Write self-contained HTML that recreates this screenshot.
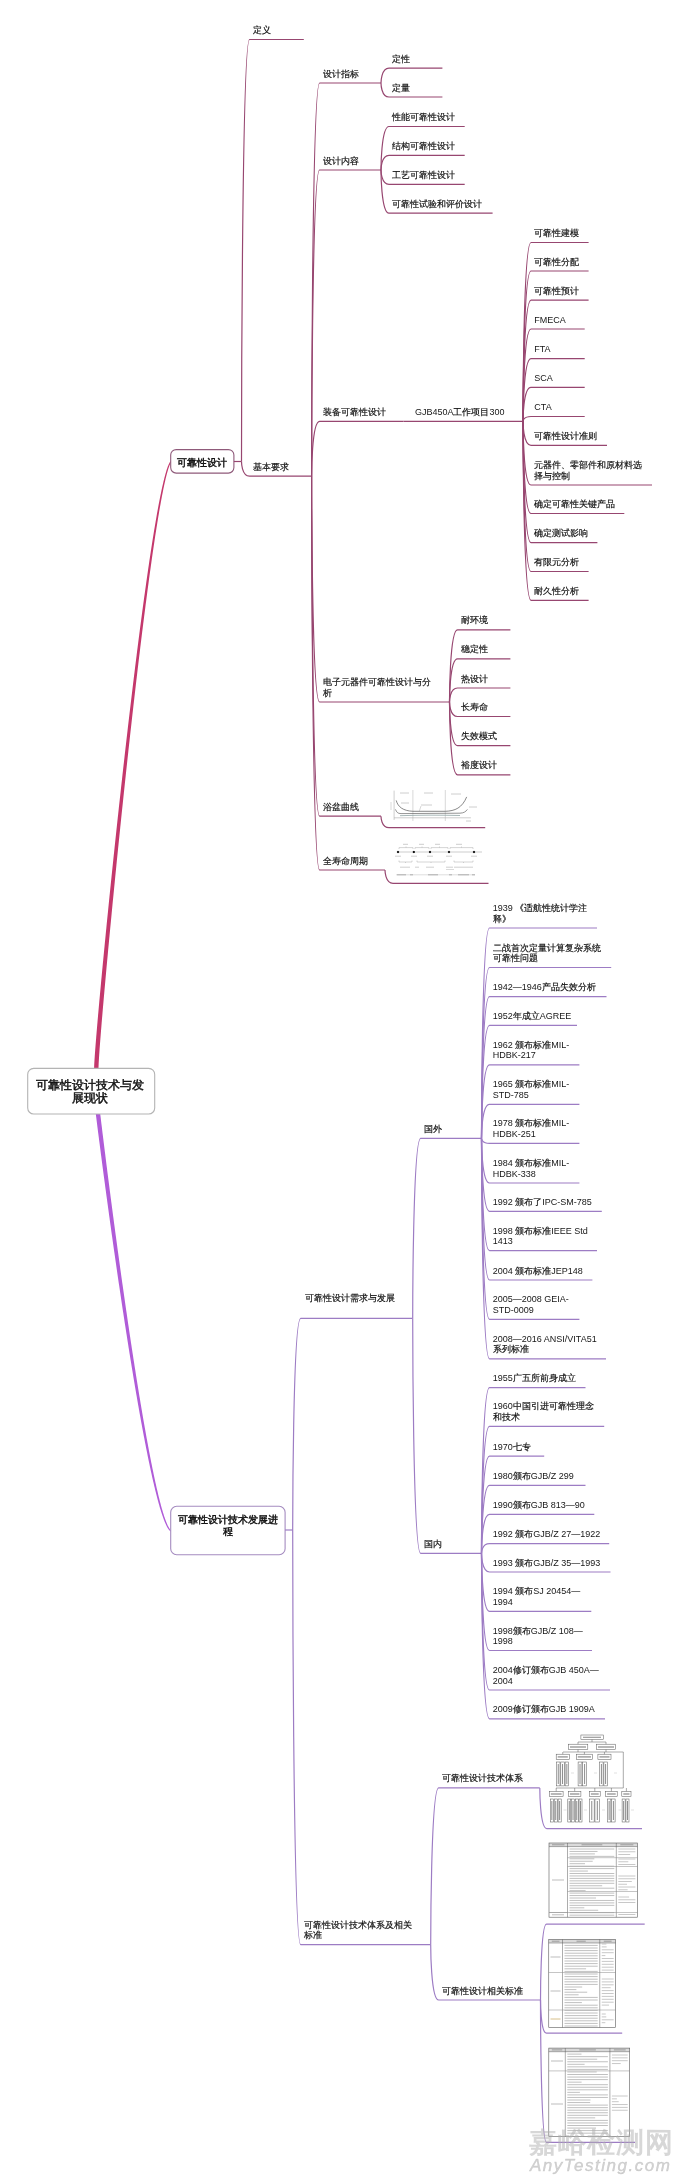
<!DOCTYPE html>
<html><head><meta charset="utf-8"><style>
html,body{margin:0;padding:0;background:#fff;}
body{width:680px;height:2183px;position:relative;overflow:hidden;font-family:"Liberation Sans",sans-serif;}
svg{position:absolute;left:0;top:0;}
.t{position:absolute;white-space:nowrap;}
.c{color:#111;-webkit-text-stroke:0.18px #111;}
.b .c{-webkit-text-stroke:0.45px #111;}
#tx{position:absolute;left:0;top:0;width:680px;height:2183px;will-change:transform;}
.wm1{position:absolute;left:529px;top:2126.5px;font-size:27.5px;line-height:32px;font-weight:bold;color:rgba(175,175,175,0.5);white-space:nowrap;letter-spacing:0.9px;}
.wm2{position:absolute;left:530px;top:2156.3px;font-size:17px;line-height:20px;font-style:italic;color:rgba(175,175,175,0.55);white-space:nowrap;letter-spacing:1.5px;-webkit-text-stroke:0.4px rgba(175,175,175,0.55);}
</style></head><body>
<svg width="680" height="2183" viewBox="0 0 680 2183" fill="none" stroke-width="1.2">
<path d="M98.50,1069.00 L98.50,1068.49 L98.51,1067.91 L98.52,1067.25 L98.55,1066.51 L98.58,1065.70 L98.61,1064.81 L98.66,1063.84 L98.71,1062.80 L98.77,1061.69 L98.84,1060.50 L98.92,1059.25 L99.00,1057.92 L99.09,1056.53 L99.19,1055.07 L99.29,1053.54 L99.40,1051.94 L99.52,1050.28 L99.64,1048.56 L99.77,1046.77 L99.91,1044.92 L100.06,1043.00 L100.21,1041.03 L100.37,1038.99 L100.53,1036.90 L100.70,1034.74 L100.88,1032.53 L101.06,1030.26 L101.25,1027.93 L101.45,1025.55 L101.65,1023.11 L101.86,1020.62 L102.07,1018.07 L102.29,1015.47 L102.52,1012.82 L102.75,1010.12 L102.99,1007.37 L103.23,1004.57 L103.48,1001.72 L103.73,998.82 L103.99,995.87 L104.26,992.88 L104.53,989.84 L104.80,986.76 L105.08,983.64 L105.37,980.47 L105.66,977.25 L105.95,974.00 L106.25,970.70 L106.56,967.37 L106.87,963.99 L107.19,960.58 L107.51,957.13 L107.83,953.64 L108.16,950.12 L108.49,946.56 L108.83,942.97 L109.17,939.34 L109.52,935.68 L109.87,931.98 L110.23,928.26 L110.59,924.50 L110.95,920.72 L111.32,916.90 L111.69,913.06 L112.06,909.19 L112.44,905.29 L112.82,901.37 L113.21,897.42 L113.60,893.44 L113.99,889.45 L114.39,885.43 L114.79,881.38 L115.20,877.32 L115.60,873.23 L116.01,869.13 L116.43,865.01 L116.84,860.87 L117.26,856.71 L117.69,852.53 L118.11,848.34 L118.54,844.13 L118.97,839.91 L119.41,835.68 L119.84,831.43 L120.28,827.17 L120.72,822.90 L121.17,818.62 L121.62,814.33 L122.06,810.03 L122.52,805.73 L122.97,801.41 L123.43,797.09 L123.88,792.77 L124.34,788.43 L124.81,784.10 L125.27,779.76 L125.73,775.42 L126.20,771.07 L126.67,766.73 L127.14,762.39 L127.61,758.04 L128.09,753.70 L128.56,749.36 L129.04,745.02 L129.52,740.69 L130.00,736.36 L130.48,732.03 L130.96,727.72 L131.44,723.41 L131.93,719.10 L132.41,714.81 L132.90,710.52 L133.38,706.24 L133.87,701.98 L134.36,697.73 L134.85,693.48 L135.34,689.26 L135.83,685.04 L136.32,680.84 L136.81,676.66 L137.30,672.49 L137.79,668.34 L138.28,664.20 L138.77,660.09 L139.26,655.99 L139.76,651.92 L140.25,647.86 L140.74,643.83 L141.23,639.82 L141.72,635.83 L142.21,631.87 L142.70,627.93 L143.19,624.02 L143.68,620.13 L144.17,616.27 L144.66,612.44 L145.15,608.64 L145.63,604.87 L146.12,601.13 L146.60,597.41 L147.09,593.73 L147.57,590.09 L148.05,586.47 L148.53,582.90 L149.01,579.35 L149.49,575.84 L149.97,572.37 L150.45,568.94 L150.92,565.54 L151.39,562.18 L151.86,558.87 L152.33,555.59 L152.80,552.35 L153.27,549.16 L153.73,546.01 L154.19,542.90 L154.66,539.84 L155.11,536.82 L155.57,533.85 L156.02,530.92 L156.48,528.05 L156.93,525.22 L157.37,522.44 L157.82,519.71 L158.26,517.03 L158.70,514.40 L159.14,511.82 L159.57,509.30 L160.01,506.83 L160.44,504.42 L160.86,502.06 L161.29,499.76 L161.71,497.51 L162.12,495.32 L162.54,493.20 L162.95,491.13 L163.36,489.12 L163.76,487.17 L164.16,485.28 L164.56,483.46 L164.96,481.70 L165.35,480.00 L165.73,478.37 L166.12,476.80 L166.50,475.30 L166.87,473.87 L167.24,472.51 L167.61,471.21 L167.98,469.99 L168.33,468.84 L168.69,467.75 L169.04,466.74 L169.38,465.81 L169.72,464.95 L170.06,464.16 L170.38,463.46 L170.70,462.83 L171.01,462.27 L171.31,461.78 L170.49,461.22 L170.12,461.71 L169.76,462.30 L169.39,462.96 L169.03,463.69 L168.66,464.50 L168.28,465.38 L167.91,466.33 L167.53,467.35 L167.15,468.44 L166.76,469.61 L166.37,470.84 L165.98,472.14 L165.58,473.52 L165.18,474.95 L164.78,476.46 L164.37,478.03 L163.96,479.67 L163.54,481.37 L163.12,483.13 L162.70,484.96 L162.28,486.85 L161.85,488.80 L161.42,490.81 L160.98,492.88 L160.54,495.01 L160.10,497.20 L159.66,499.45 L159.21,501.75 L158.76,504.11 L158.31,506.52 L157.85,508.99 L157.39,511.52 L156.93,514.09 L156.47,516.72 L156.00,519.40 L155.53,522.13 L155.06,524.91 L154.59,527.74 L154.11,530.62 L153.64,533.54 L153.16,536.51 L152.67,539.53 L152.19,542.59 L151.70,545.70 L151.22,548.85 L150.73,552.04 L150.24,555.28 L149.74,558.56 L149.25,561.87 L148.75,565.23 L148.26,568.62 L147.76,572.06 L147.26,575.53 L146.76,579.04 L146.25,582.58 L145.75,586.16 L145.25,589.77 L144.74,593.42 L144.23,597.10 L143.73,600.81 L143.22,604.55 L142.71,608.32 L142.20,612.12 L141.69,615.95 L141.18,619.81 L140.66,623.69 L140.15,627.61 L139.64,631.54 L139.13,635.51 L138.61,639.49 L138.10,643.50 L137.59,647.53 L137.07,651.59 L136.56,655.66 L136.05,659.76 L135.54,663.87 L135.02,668.00 L134.51,672.15 L134.00,676.32 L133.49,680.50 L132.97,684.70 L132.46,688.91 L131.95,693.14 L131.44,697.38 L130.94,701.64 L130.43,705.90 L129.92,710.18 L129.41,714.46 L128.91,718.75 L128.41,723.06 L127.90,727.37 L127.40,731.68 L126.90,736.01 L126.40,740.34 L125.90,744.67 L125.41,749.01 L124.91,753.35 L124.42,757.69 L123.93,762.03 L123.44,766.37 L122.95,770.72 L122.46,775.06 L121.98,779.40 L121.49,783.74 L121.01,788.07 L120.54,792.40 L120.06,796.73 L119.59,801.05 L119.11,805.36 L118.64,809.67 L118.18,813.97 L117.71,818.26 L117.25,822.54 L116.79,826.81 L116.33,831.06 L115.88,835.31 L115.43,839.54 L114.98,843.76 L114.53,847.97 L114.09,852.16 L113.65,856.34 L113.22,860.49 L112.78,864.63 L112.35,868.76 L111.93,872.86 L111.50,876.94 L111.08,881.01 L110.67,885.05 L110.26,889.07 L109.85,893.07 L109.44,897.04 L109.04,900.99 L108.64,904.91 L108.25,908.81 L107.86,912.68 L107.47,916.52 L107.09,920.34 L106.71,924.12 L106.34,927.88 L105.97,931.60 L105.61,935.30 L105.25,938.96 L104.89,942.59 L104.54,946.18 L104.19,949.74 L103.85,953.27 L103.51,956.75 L103.18,960.20 L102.85,963.62 L102.53,966.99 L102.21,970.33 L101.90,973.62 L101.59,976.88 L101.29,980.09 L100.99,983.26 L100.70,986.39 L100.42,989.47 L100.13,992.51 L99.86,995.50 L99.59,998.45 L99.32,1001.35 L99.07,1004.20 L98.81,1007.00 L98.57,1009.75 L98.33,1012.46 L98.09,1015.11 L97.86,1017.71 L97.64,1020.26 L97.42,1022.75 L97.21,1025.19 L97.01,1027.58 L96.81,1029.91 L96.62,1032.18 L96.43,1034.39 L96.25,1036.55 L96.08,1038.65 L95.92,1040.69 L95.76,1042.67 L95.61,1044.59 L95.46,1046.44 L95.32,1048.24 L95.19,1049.97 L95.07,1051.63 L94.95,1053.23 L94.84,1054.77 L94.74,1056.24 L94.65,1057.64 L94.56,1058.97 L94.48,1060.24 L94.41,1061.43 L94.34,1062.56 L94.28,1063.62 L94.23,1064.60 L94.19,1065.52 L94.16,1066.36 L94.13,1067.13 L94.11,1067.83 L94.10,1068.45 L94.10,1069.00Z" fill="#c4386c" stroke="none"/>
<path d="M95.72,1113.27 L95.98,1115.41 L96.26,1117.58 L96.53,1119.76 L96.81,1121.95 L97.09,1124.17 L97.37,1126.40 L97.66,1128.65 L97.94,1130.92 L98.23,1133.20 L98.53,1135.49 L98.82,1137.81 L99.12,1140.13 L99.43,1142.48 L99.73,1144.83 L100.04,1147.21 L100.35,1149.59 L100.66,1151.99 L100.97,1154.41 L101.29,1156.83 L101.61,1159.27 L101.93,1161.72 L102.25,1164.19 L102.58,1166.67 L102.91,1169.15 L103.24,1171.65 L103.57,1174.17 L103.91,1176.69 L104.25,1179.22 L104.59,1181.77 L104.93,1184.32 L105.27,1186.88 L105.62,1189.46 L105.97,1192.04 L106.32,1194.63 L106.67,1197.23 L107.02,1199.84 L107.38,1202.46 L107.74,1205.08 L108.10,1207.72 L108.46,1210.36 L108.82,1213.00 L109.19,1215.66 L109.55,1218.32 L109.92,1220.98 L110.29,1223.66 L110.66,1226.34 L111.04,1229.02 L111.41,1231.71 L111.79,1234.40 L112.17,1237.10 L112.55,1239.80 L112.93,1242.51 L113.32,1245.22 L113.70,1247.93 L114.09,1250.65 L114.47,1253.37 L114.86,1256.09 L115.25,1258.81 L115.65,1261.54 L116.04,1264.27 L116.43,1267.00 L116.83,1269.73 L117.22,1272.46 L117.62,1275.19 L118.02,1277.92 L118.42,1280.66 L118.82,1283.39 L119.23,1286.12 L119.63,1288.85 L120.03,1291.58 L120.44,1294.31 L120.85,1297.03 L121.25,1299.76 L121.66,1302.48 L122.07,1305.20 L122.48,1307.92 L122.89,1310.63 L123.30,1313.34 L123.71,1316.05 L124.13,1318.75 L124.54,1321.45 L124.96,1324.14 L125.37,1326.83 L125.79,1329.52 L126.20,1332.20 L126.62,1334.87 L127.04,1337.54 L127.45,1340.20 L127.87,1342.85 L128.29,1345.50 L128.71,1348.14 L129.13,1350.78 L129.55,1353.40 L129.97,1356.02 L130.39,1358.63 L130.81,1361.23 L131.23,1363.83 L131.66,1366.41 L132.08,1368.99 L132.50,1371.55 L132.92,1374.11 L133.34,1376.65 L133.77,1379.19 L134.19,1381.71 L134.61,1384.22 L135.03,1386.73 L135.45,1389.22 L135.88,1391.70 L136.30,1394.16 L136.72,1396.62 L137.14,1399.06 L137.56,1401.49 L137.99,1403.90 L138.41,1406.30 L138.83,1408.69 L139.25,1411.07 L139.67,1413.42 L140.09,1415.77 L140.51,1418.10 L140.93,1420.41 L141.35,1422.71 L141.77,1425.00 L142.18,1427.26 L142.60,1429.52 L143.02,1431.75 L143.44,1433.97 L143.85,1436.17 L144.27,1438.35 L144.68,1440.52 L145.10,1442.67 L145.51,1444.79 L145.92,1446.90 L146.33,1449.00 L146.74,1451.07 L147.15,1453.12 L147.56,1455.16 L147.97,1457.17 L148.38,1459.16 L148.79,1461.13 L149.19,1463.09 L149.60,1465.02 L150.00,1466.93 L150.40,1468.81 L150.80,1470.68 L151.20,1472.52 L151.60,1474.34 L152.00,1476.14 L152.40,1477.92 L152.79,1479.67 L153.19,1481.40 L153.58,1483.10 L153.98,1484.78 L154.37,1486.44 L154.76,1488.07 L155.14,1489.67 L155.53,1491.25 L155.92,1492.81 L156.30,1494.34 L156.68,1495.84 L157.06,1497.32 L157.44,1498.77 L157.82,1500.19 L158.19,1501.59 L158.57,1502.95 L158.94,1504.29 L159.31,1505.61 L159.68,1506.89 L160.05,1508.14 L160.42,1509.37 L160.78,1510.57 L161.14,1511.74 L161.50,1512.87 L161.86,1513.98 L162.22,1515.06 L162.58,1516.11 L162.93,1517.12 L163.28,1518.11 L163.63,1519.06 L163.98,1519.98 L164.32,1520.87 L164.67,1521.73 L165.01,1522.56 L165.35,1523.35 L165.69,1524.11 L166.02,1524.84 L166.36,1525.53 L166.69,1526.19 L167.02,1526.82 L167.35,1527.41 L167.68,1527.97 L168.00,1528.50 L168.33,1528.99 L168.65,1529.44 L168.97,1529.86 L169.30,1530.25 L169.62,1530.59 L169.95,1530.91 L170.27,1531.18 L170.59,1531.40 L171.21,1530.60 L170.95,1530.37 L170.69,1530.13 L170.42,1529.84 L170.15,1529.52 L169.88,1529.16 L169.60,1528.77 L169.31,1528.33 L169.02,1527.86 L168.73,1527.36 L168.43,1526.82 L168.13,1526.24 L167.83,1525.63 L167.52,1524.98 L167.21,1524.29 L166.90,1523.58 L166.59,1522.83 L166.27,1522.04 L165.95,1521.22 L165.63,1520.37 L165.31,1519.49 L164.98,1518.57 L164.65,1517.62 L164.33,1516.64 L163.99,1515.63 L163.66,1514.59 L163.32,1513.52 L162.99,1512.41 L162.65,1511.28 L162.30,1510.11 L161.96,1508.92 L161.61,1507.69 L161.27,1506.44 L160.92,1505.16 L160.57,1503.85 L160.21,1502.51 L159.86,1501.14 L159.50,1499.75 L159.15,1498.33 L158.79,1496.88 L158.43,1495.41 L158.07,1493.90 L157.70,1492.37 L157.34,1490.82 L156.97,1489.24 L156.60,1487.64 L156.23,1486.01 L155.86,1484.35 L155.49,1482.67 L155.12,1480.97 L154.74,1479.24 L154.37,1477.49 L153.99,1475.71 L153.61,1473.91 L153.23,1472.09 L152.85,1470.25 L152.47,1468.38 L152.08,1466.49 L151.70,1464.58 L151.32,1462.65 L150.93,1460.70 L150.54,1458.73 L150.16,1456.73 L149.77,1454.72 L149.38,1452.69 L148.99,1450.63 L148.59,1448.56 L148.20,1446.47 L147.81,1444.36 L147.42,1442.23 L147.02,1440.08 L146.63,1437.91 L146.23,1435.73 L145.83,1433.53 L145.44,1431.31 L145.04,1429.07 L144.64,1426.82 L144.24,1424.55 L143.84,1422.27 L143.44,1419.97 L143.04,1417.65 L142.64,1415.32 L142.24,1412.98 L141.84,1410.62 L141.44,1408.24 L141.03,1405.85 L140.63,1403.45 L140.23,1401.03 L139.83,1398.60 L139.42,1396.16 L139.02,1393.71 L138.62,1391.24 L138.21,1388.76 L137.81,1386.27 L137.40,1383.76 L137.00,1381.25 L136.60,1378.73 L136.19,1376.19 L135.79,1373.64 L135.39,1371.09 L134.98,1368.52 L134.58,1365.94 L134.18,1363.36 L133.77,1360.77 L133.37,1358.16 L132.97,1355.55 L132.56,1352.93 L132.16,1350.30 L131.76,1347.67 L131.36,1345.03 L130.96,1342.38 L130.56,1339.72 L130.16,1337.06 L129.76,1334.39 L129.36,1331.72 L128.96,1329.04 L128.56,1326.35 L128.16,1323.66 L127.76,1320.97 L127.37,1318.27 L126.97,1315.56 L126.58,1312.85 L126.18,1310.14 L125.79,1307.43 L125.40,1304.71 L125.00,1301.99 L124.61,1299.27 L124.22,1296.54 L123.83,1293.81 L123.44,1291.08 L123.05,1288.35 L122.67,1285.62 L122.28,1282.89 L121.90,1280.16 L121.51,1277.42 L121.13,1274.69 L120.75,1271.96 L120.37,1269.23 L119.99,1266.49 L119.61,1263.76 L119.23,1261.03 L118.86,1258.31 L118.48,1255.58 L118.11,1252.86 L117.74,1250.14 L117.36,1247.42 L117.00,1244.71 L116.63,1242.00 L116.26,1239.29 L115.90,1236.59 L115.53,1233.89 L115.17,1231.19 L114.81,1228.50 L114.45,1225.82 L114.09,1223.14 L113.74,1220.47 L113.38,1217.80 L113.03,1215.14 L112.68,1212.48 L112.33,1209.84 L111.98,1207.20 L111.64,1204.56 L111.29,1201.94 L110.95,1199.32 L110.61,1196.71 L110.27,1194.11 L109.93,1191.51 L109.60,1188.93 L109.27,1186.36 L108.94,1183.79 L108.61,1181.24 L108.28,1178.69 L107.96,1176.16 L107.63,1173.64 L107.31,1171.13 L107.00,1168.62 L106.68,1166.14 L106.37,1163.66 L106.06,1161.19 L105.75,1158.74 L105.44,1156.30 L105.14,1153.87 L104.83,1151.46 L104.53,1149.06 L104.24,1146.67 L103.94,1144.30 L103.65,1141.94 L103.36,1139.60 L103.07,1137.27 L102.79,1134.96 L102.50,1132.66 L102.22,1130.38 L101.95,1128.12 L101.67,1125.87 L101.40,1123.63 L101.13,1121.42 L100.87,1119.22 L100.60,1117.04 L100.34,1114.88 L100.08,1112.73Z" fill="#b05cd8" stroke="none"/>
<rect x="27.7" y="1068.4" width="127" height="45.6" rx="6" fill="#fff" stroke="#b4b4b4" stroke-width="1.1"/>
<rect x="170.7" y="449.6" width="63.2" height="23.5" rx="5.5" fill="#fff" stroke="#8f5a7a" stroke-width="1.1"/>
<rect x="170.7" y="1506.3" width="114.4" height="48.4" rx="6" fill="#fff" stroke="#a58cc0" stroke-width="1.1"/>
<path d="M233.9,461.5 L241.5,461.5" stroke="#974670"/>
<path d="M241.50,461.50 C241.50,461.50 241.50,39.50 249.50,39.50 L303.80,39.50" stroke="#974670"/>
<path d="M241.50,461.50 C241.50,461.50 241.50,476.10 249.50,476.10 L311.60,476.10" stroke="#974670"/>
<path d="M311.60,476.10 C311.60,476.10 311.60,83.00 319.60,83.00 L381.00,83.00" stroke="#974670"/>
<path d="M381.00,83.00 C381.00,83.00 381.00,68.10 389.00,68.10 L442.40,68.10" stroke="#974670"/>
<path d="M381.00,83.00 C381.00,83.00 381.00,97.00 389.00,97.00 L442.40,97.00" stroke="#974670"/>
<path d="M311.60,476.10 C311.60,476.10 311.60,170.00 319.60,170.00 L381.00,170.00" stroke="#974670"/>
<path d="M381.00,170.00 C381.00,170.00 381.00,126.50 389.00,126.50 L464.70,126.50" stroke="#974670"/>
<path d="M381.00,170.00 C381.00,170.00 381.00,155.30 389.00,155.30 L464.70,155.30" stroke="#974670"/>
<path d="M381.00,170.00 C381.00,170.00 381.00,184.40 389.00,184.40 L464.70,184.40" stroke="#974670"/>
<path d="M381.00,170.00 C381.00,170.00 381.00,213.20 389.00,213.20 L492.60,213.20" stroke="#974670"/>
<path d="M311.60,476.10 C311.60,476.10 311.60,421.40 319.60,421.40 L403.50,421.40" stroke="#974670"/>
<path d="M403.50,421.40 C403.50,421.40 403.50,421.40 411.50,421.40 L523.00,421.40" stroke="#974670"/>
<path d="M523.00,421.40 C523.00,421.40 523.00,242.50 531.00,242.50 L588.60,242.50" stroke="#974670"/>
<path d="M523.00,421.40 C523.00,421.40 523.00,271.00 531.00,271.00 L588.60,271.00" stroke="#974670"/>
<path d="M523.00,421.40 C523.00,421.40 523.00,300.20 531.00,300.20 L588.60,300.20" stroke="#974670"/>
<path d="M523.00,421.40 C523.00,421.40 523.00,329.00 531.00,329.00 L584.70,329.00" stroke="#974670"/>
<path d="M523.00,421.40 C523.00,421.40 523.00,358.60 531.00,358.60 L584.70,358.60" stroke="#974670"/>
<path d="M523.00,421.40 C523.00,421.40 523.00,387.40 531.00,387.40 L584.70,387.40" stroke="#974670"/>
<path d="M523.00,421.40 C523.00,421.40 523.00,416.50 531.00,416.50 L584.70,416.50" stroke="#974670"/>
<path d="M523.00,421.40 C523.00,421.40 523.00,445.30 531.00,445.30 L607.00,445.30" stroke="#974670"/>
<path d="M523.00,421.40 C523.00,421.40 523.00,485.00 531.00,485.00 L652.00,485.00" stroke="#974670"/>
<path d="M523.00,421.40 C523.00,421.40 523.00,513.50 531.00,513.50 L624.30,513.50" stroke="#974670"/>
<path d="M523.00,421.40 C523.00,421.40 523.00,542.60 531.00,542.60 L597.40,542.60" stroke="#974670"/>
<path d="M523.00,421.40 C523.00,421.40 523.00,571.50 531.00,571.50 L588.60,571.50" stroke="#974670"/>
<path d="M523.00,421.40 C523.00,421.40 523.00,600.30 531.00,600.30 L588.60,600.30" stroke="#974670"/>
<path d="M311.60,476.10 C311.60,476.10 311.60,702.00 319.60,702.00 L449.50,702.00" stroke="#974670"/>
<path d="M449.50,702.00 C449.50,702.00 449.50,629.80 457.50,629.80 L510.40,629.80" stroke="#974670"/>
<path d="M449.50,702.00 C449.50,702.00 449.50,658.90 457.50,658.90 L510.40,658.90" stroke="#974670"/>
<path d="M449.50,702.00 C449.50,702.00 449.50,688.00 457.50,688.00 L510.40,688.00" stroke="#974670"/>
<path d="M449.50,702.00 C449.50,702.00 449.50,716.50 457.50,716.50 L510.40,716.50" stroke="#974670"/>
<path d="M449.50,702.00 C449.50,702.00 449.50,745.60 457.50,745.60 L510.40,745.60" stroke="#974670"/>
<path d="M449.50,702.00 C449.50,702.00 449.50,774.80 457.50,774.80 L510.40,774.80" stroke="#974670"/>
<path d="M311.60,476.10 C311.60,476.10 311.60,816.20 319.60,816.20 L381.00,816.20" stroke="#974670"/>
<path d="M381.00,816.20 C381.00,816.20 381.00,827.70 389.00,827.70 L485.20,827.70" stroke="#974670"/>
<path d="M311.60,476.10 C311.60,476.10 311.60,870.00 319.60,870.00 L385.00,870.00" stroke="#974670"/>
<path d="M385.00,870.00 C385.00,870.00 385.00,883.30 393.00,883.30 L488.50,883.30" stroke="#974670"/>
<path d="M285.1,1530 L292.7,1530" stroke="#9d7cc4"/>
<path d="M292.70,1530.00 C292.70,1530.00 292.70,1318.40 300.70,1318.40 L412.70,1318.40" stroke="#9d7cc4"/>
<path d="M412.70,1318.40 C412.70,1318.40 412.70,1138.30 420.70,1138.30 L481.50,1138.30" stroke="#9d7cc4"/>
<path d="M412.70,1318.40 C412.70,1318.40 412.70,1553.40 420.70,1553.40 L481.50,1553.40" stroke="#9d7cc4"/>
<path d="M481.50,1138.30 C481.50,1138.30 481.50,928.00 489.50,928.00 L597.00,928.00" stroke="#9d7cc4"/>
<path d="M481.50,1138.30 C481.50,1138.30 481.50,967.50 489.50,967.50 L611.20,967.50" stroke="#9d7cc4"/>
<path d="M481.50,1138.30 C481.50,1138.30 481.50,996.60 489.50,996.60 L606.50,996.60" stroke="#9d7cc4"/>
<path d="M481.50,1138.30 C481.50,1138.30 481.50,1025.30 489.50,1025.30 L577.00,1025.30" stroke="#9d7cc4"/>
<path d="M481.50,1138.30 C481.50,1138.30 481.50,1064.80 489.50,1064.80 L579.40,1064.80" stroke="#9d7cc4"/>
<path d="M481.50,1138.30 C481.50,1138.30 481.50,1104.40 489.50,1104.40 L579.40,1104.40" stroke="#9d7cc4"/>
<path d="M481.50,1138.30 C481.50,1138.30 481.50,1143.40 489.50,1143.40 L579.40,1143.40" stroke="#9d7cc4"/>
<path d="M481.50,1138.30 C481.50,1138.30 481.50,1183.00 489.50,1183.00 L579.40,1183.00" stroke="#9d7cc4"/>
<path d="M481.50,1138.30 C481.50,1138.30 481.50,1211.30 489.50,1211.30 L601.80,1211.30" stroke="#9d7cc4"/>
<path d="M481.50,1138.30 C481.50,1138.30 481.50,1250.60 489.50,1250.60 L597.00,1250.60" stroke="#9d7cc4"/>
<path d="M481.50,1138.30 C481.50,1138.30 481.50,1280.00 489.50,1280.00 L592.40,1280.00" stroke="#9d7cc4"/>
<path d="M481.50,1138.30 C481.50,1138.30 481.50,1319.30 489.50,1319.30 L579.40,1319.30" stroke="#9d7cc4"/>
<path d="M481.50,1138.30 C481.50,1138.30 481.50,1358.80 489.50,1358.80 L606.00,1358.80" stroke="#9d7cc4"/>
<path d="M481.50,1553.40 C481.50,1553.40 481.50,1387.60 489.50,1387.60 L585.50,1387.60" stroke="#9d7cc4"/>
<path d="M481.50,1553.40 C481.50,1553.40 481.50,1426.40 489.50,1426.40 L604.20,1426.40" stroke="#9d7cc4"/>
<path d="M481.50,1553.40 C481.50,1553.40 481.50,1456.10 489.50,1456.10 L544.20,1456.10" stroke="#9d7cc4"/>
<path d="M481.50,1553.40 C481.50,1553.40 481.50,1485.40 489.50,1485.40 L585.50,1485.40" stroke="#9d7cc4"/>
<path d="M481.50,1553.40 C481.50,1553.40 481.50,1514.40 489.50,1514.40 L594.30,1514.40" stroke="#9d7cc4"/>
<path d="M481.50,1553.40 C481.50,1553.40 481.50,1543.70 489.50,1543.70 L609.20,1543.70" stroke="#9d7cc4"/>
<path d="M481.50,1553.40 C481.50,1553.40 481.50,1572.00 489.50,1572.00 L610.50,1572.00" stroke="#9d7cc4"/>
<path d="M481.50,1553.40 C481.50,1553.40 481.50,1611.30 489.50,1611.30 L591.30,1611.30" stroke="#9d7cc4"/>
<path d="M481.50,1553.40 C481.50,1553.40 481.50,1650.50 489.50,1650.50 L592.00,1650.50" stroke="#9d7cc4"/>
<path d="M481.50,1553.40 C481.50,1553.40 481.50,1690.00 489.50,1690.00 L610.00,1690.00" stroke="#9d7cc4"/>
<path d="M481.50,1553.40 C481.50,1553.40 481.50,1718.80 489.50,1718.80 L605.00,1718.80" stroke="#9d7cc4"/>
<path d="M292.70,1530.00 C292.70,1530.00 292.70,1944.70 300.70,1944.70 L430.70,1944.70" stroke="#9d7cc4"/>
<path d="M430.70,1944.70 C430.70,1944.70 430.70,1787.90 438.70,1787.90 L539.80,1787.90" stroke="#9d7cc4"/>
<path d="M430.70,1944.70 C430.70,1944.70 430.70,2000.00 438.70,2000.00 L540.50,2000.00" stroke="#9d7cc4"/>
<path d="M539.80,1787.90 C539.80,1787.90 539.80,1828.60 546.80,1828.60 L642.00,1828.60" stroke="#9d7cc4"/>
<path d="M540.50,2000.00 C540.50,2000.00 540.50,1924.10 546.50,1924.10 L644.70,1924.10" stroke="#9d7cc4"/>
<path d="M540.50,2000.00 C540.50,2000.00 540.50,2033.20 546.50,2033.20 L622.20,2033.20" stroke="#9d7cc4"/>
<path d="M540.50,2000.00 C540.50,2000.00 540.50,2142.30 546.50,2142.30 L635.00,2142.30" stroke="#9d7cc4"/>
<path d="M394.1,790.6 L394.1,819.9" stroke="#9a9a9a" stroke-width="0.5"/>
<path d="M394.1,817.8 L470.9,817.8" stroke="#9a9a9a" stroke-width="0.5"/>
<path d="M412.9,790 L412.9,821" stroke="#a8a8a8" stroke-width="0.45"/>
<path d="M445.3,790 L445.3,821" stroke="#a8a8a8" stroke-width="0.45"/>
<path d="M396.2,800.4 C398,807 403,810.8 412.9,811.3 L445.3,811.3 C455,811 462,808 466.7,796.9" stroke="#555" stroke-width="0.7"/>
<path d="M395.5,809.4 C396.5,812 397.5,813.6 401,813.6 L460,813.2 C464,813 466,811.5 467.4,809.4" stroke="#666" stroke-width="0.7"/>
<path d="M400,815.7 C420,815 440,815 460,815.5" stroke="#8fa3a3" stroke-width="0.8"/>
<path d="M400,793 L409,793" stroke="#c8c8c8" stroke-width="0.9"/>
<path d="M424,793 L433,793" stroke="#c8c8c8" stroke-width="0.9"/>
<path d="M451,794 L461,794" stroke="#c8c8c8" stroke-width="0.9"/>
<path d="M401,803 L409,803" stroke="#c8c8c8" stroke-width="0.9"/>
<path d="M421,805 L432,805" stroke="#c8c8c8" stroke-width="0.9"/>
<path d="M469,807 L477,807" stroke="#c8c8c8" stroke-width="0.9"/>
<path d="M466,821 L471,821" stroke="#c8c8c8" stroke-width="0.9"/>
<path d="M391,802 L391,810" stroke="#cfcfcf" stroke-width="0.8"/>
<path d="M421,806 L419,812" stroke="#999" stroke-width="0.4"/>
<path d="M398,852 L482,852" stroke="#9a9a9a" stroke-width="0.5"/>
<rect x="397.1" y="851.1" width="1.8" height="1.8" stroke="#111" stroke-width="0.3" fill="#111"/>
<rect x="413.0" y="851.1" width="1.8" height="1.8" stroke="#111" stroke-width="0.3" fill="#111"/>
<rect x="429.1" y="851.1" width="1.8" height="1.8" stroke="#111" stroke-width="0.3" fill="#111"/>
<rect x="448.1" y="851.1" width="1.8" height="1.8" stroke="#111" stroke-width="0.3" fill="#111"/>
<rect x="473.1" y="851.1" width="1.8" height="1.8" stroke="#111" stroke-width="0.3" fill="#111"/>
<path d="M399,849 L399,847.6 L413,847.6 L413,849 M406.0,847.6 L406.0,846.5" stroke="#aaa" stroke-width="0.5"/>
<path d="M415,849 L415,847.6 L429,847.6 L429,849 M422.0,847.6 L422.0,846.5" stroke="#aaa" stroke-width="0.5"/>
<path d="M431,849 L431,847.6 L448,847.6 L448,849 M439.5,847.6 L439.5,846.5" stroke="#aaa" stroke-width="0.5"/>
<path d="M450,849 L450,847.6 L473,847.6 L473,849 M461.5,847.6 L461.5,846.5" stroke="#aaa" stroke-width="0.5"/>
<path d="M403,844.3 L408,844.3" stroke="#c0c0c0" stroke-width="0.8"/>
<path d="M419,844.3 L424,844.3" stroke="#c0c0c0" stroke-width="0.8"/>
<path d="M435,844.3 L440,844.3" stroke="#c0c0c0" stroke-width="0.8"/>
<path d="M456,844.3 L462,844.3" stroke="#c0c0c0" stroke-width="0.8"/>
<path d="M395,856.2 L401,856.2" stroke="#c4c4c4" stroke-width="0.8"/>
<path d="M411,856.2 L417,856.2" stroke="#c4c4c4" stroke-width="0.8"/>
<path d="M427,856.2 L433,856.2" stroke="#c4c4c4" stroke-width="0.8"/>
<path d="M446,856.2 L452,856.2" stroke="#c4c4c4" stroke-width="0.8"/>
<path d="M471,856.2 L477,856.2" stroke="#c4c4c4" stroke-width="0.8"/>
<path d="M399,860.5 L399,862 L412,862 L412,860.5 M405.5,862 L405.5,863" stroke="#aaa" stroke-width="0.5"/>
<path d="M417,860.5 L417,862 L445,862 L445,860.5 M431.0,862 L431.0,863" stroke="#aaa" stroke-width="0.5"/>
<path d="M454,860.5 L454,862 L473,862 L473,860.5 M463.5,862 L463.5,863" stroke="#aaa" stroke-width="0.5"/>
<path d="M400,867.2 L410,867.2" stroke="#c4c4c4" stroke-width="0.8"/>
<path d="M415,867.2 L419,867.2" stroke="#c4c4c4" stroke-width="0.8"/>
<path d="M426,867.2 L434,867.2" stroke="#c4c4c4" stroke-width="0.8"/>
<path d="M446,867.2 L453,867.2" stroke="#c4c4c4" stroke-width="0.8"/>
<path d="M454,867.2 L473,867.2" stroke="#c4c4c4" stroke-width="0.8"/>
<path d="M446,869.5 L454,869.5" stroke="#cacaca" stroke-width="0.7"/>
<path d="M396,874.8 L475,874.8" stroke="#bdbdbd" stroke-width="0.5"/>
<path d="M397,874.8 L406,874.8" stroke="#b0b0b0" stroke-width="1.0"/>
<path d="M410,874.8 L413,874.8" stroke="#b0b0b0" stroke-width="1.0"/>
<path d="M428,874.8 L438,874.8" stroke="#b0b0b0" stroke-width="1.0"/>
<path d="M449,874.8 L452,874.8" stroke="#b0b0b0" stroke-width="1.0"/>
<path d="M458,874.8 L469,874.8" stroke="#b0b0b0" stroke-width="1.0"/>
<path d="M472,874.8 L475,874.8" stroke="#b0b0b0" stroke-width="1.0"/>
<rect x="580.9" y="1735" width="22.4" height="4.6" stroke="#555555" stroke-width="0.5" fill="none"/>
<path d="M583,1737.3 L601,1737.3" stroke="#9a9a9a" stroke-width="1.2"/>
<path d="M592,1739.6 L592,1742" stroke="#555555" stroke-width="0.5"/>
<path d="M578,1742 L606,1742" stroke="#555555" stroke-width="0.5"/>
<path d="M578,1742 L578,1744.2" stroke="#555555" stroke-width="0.5"/>
<path d="M606,1742 L606,1744.2" stroke="#555555" stroke-width="0.5"/>
<rect x="568.5" y="1744.2" width="19.3" height="5.4" stroke="#555555" stroke-width="0.5" fill="none"/>
<rect x="596.3" y="1744.2" width="19.3" height="5.4" stroke="#555555" stroke-width="0.5" fill="none"/>
<path d="M570,1747 L586,1747" stroke="#9a9a9a" stroke-width="1.4"/>
<path d="M598,1747 L614,1747" stroke="#9a9a9a" stroke-width="1.4"/>
<path d="M563,1752 L623.3,1752" stroke="#555555" stroke-width="0.5"/>
<path d="M578,1749.6 L578,1752" stroke="#555555" stroke-width="0.5"/>
<path d="M606,1749.6 L606,1752" stroke="#555555" stroke-width="0.5"/>
<path d="M623.3,1752 L623.3,1788" stroke="#555555" stroke-width="0.5"/>
<rect x="556.2" y="1754.2" width="13.1" height="5.4" stroke="#555555" stroke-width="0.5" fill="none"/>
<path d="M557.7,1756.9 L567.8000000000001,1756.9" stroke="#9a9a9a" stroke-width="1.4"/>
<path d="M562.75,1752 L562.75,1754.2" stroke="#555555" stroke-width="0.5"/>
<rect x="576.3" y="1754.2" width="16.2" height="5.4" stroke="#555555" stroke-width="0.5" fill="none"/>
<path d="M577.8,1756.9 L591.0,1756.9" stroke="#9a9a9a" stroke-width="1.4"/>
<path d="M584.4,1752 L584.4,1754.2" stroke="#555555" stroke-width="0.5"/>
<rect x="597.9" y="1754.2" width="13.1" height="5.4" stroke="#555555" stroke-width="0.5" fill="none"/>
<path d="M599.4,1756.9 L609.5,1756.9" stroke="#9a9a9a" stroke-width="1.4"/>
<path d="M604.4499999999999,1752 L604.4499999999999,1754.2" stroke="#555555" stroke-width="0.5"/>
<rect x="556.5" y="1762" width="3.5" height="23.9" stroke="#555555" stroke-width="0.5" fill="none"/>
<path d="M558.25,1764 L558.25,1784" stroke="#8a8a8a" stroke-width="1.0"/>
<rect x="560.8" y="1762" width="3.5" height="23.9" stroke="#555555" stroke-width="0.5" fill="none"/>
<path d="M562.55,1764 L562.55,1784" stroke="#8a8a8a" stroke-width="1.0"/>
<rect x="565.1" y="1762" width="3.5" height="23.9" stroke="#555555" stroke-width="0.5" fill="none"/>
<path d="M566.85,1764 L566.85,1784" stroke="#8a8a8a" stroke-width="1.0"/>
<rect x="578.0999999999999" y="1762" width="3.8" height="23.9" stroke="#555555" stroke-width="0.5" fill="none"/>
<path d="M579.9999999999999,1764 L579.9999999999999,1784" stroke="#8a8a8a" stroke-width="1.0"/>
<rect x="582.6999999999999" y="1762" width="3.8" height="23.9" stroke="#555555" stroke-width="0.5" fill="none"/>
<path d="M584.5999999999999,1764 L584.5999999999999,1784" stroke="#8a8a8a" stroke-width="1.0"/>
<rect x="599.6999999999999" y="1762" width="3.4000000000000004" height="23.9" stroke="#555555" stroke-width="0.5" fill="none"/>
<path d="M601.4,1764 L601.4,1784" stroke="#8a8a8a" stroke-width="1.0"/>
<rect x="603.9" y="1762" width="3.4000000000000004" height="23.9" stroke="#555555" stroke-width="0.5" fill="none"/>
<path d="M605.6,1764 L605.6,1784" stroke="#8a8a8a" stroke-width="1.0"/>
<path d="M571,1773 L574,1773" stroke="#cfcfcf" stroke-width="0.6"/>
<path d="M594,1773 L597,1773" stroke="#cfcfcf" stroke-width="0.6"/>
<path d="M614,1773 L617,1773" stroke="#cfcfcf" stroke-width="0.6"/>
<path d="M556,1788 L623.3,1788" stroke="#555555" stroke-width="0.5"/>
<rect x="549.3" y="1791.3" width="13.8" height="5.4" stroke="#555555" stroke-width="0.5" fill="none"/>
<path d="M550.8,1794 L561.5999999999999,1794" stroke="#9a9a9a" stroke-width="1.4"/>
<path d="M556.1999999999999,1788 L556.1999999999999,1791.3" stroke="#555555" stroke-width="0.5"/>
<rect x="568.5" y="1791.3" width="12.4" height="5.4" stroke="#555555" stroke-width="0.5" fill="none"/>
<path d="M570.0,1794 L579.4,1794" stroke="#9a9a9a" stroke-width="1.4"/>
<path d="M574.7,1788 L574.7,1791.3" stroke="#555555" stroke-width="0.5"/>
<rect x="589.4" y="1791.3" width="10.8" height="5.4" stroke="#555555" stroke-width="0.5" fill="none"/>
<path d="M590.9,1794 L598.6999999999999,1794" stroke="#9a9a9a" stroke-width="1.4"/>
<path d="M594.8,1788 L594.8,1791.3" stroke="#555555" stroke-width="0.5"/>
<rect x="605.6" y="1791.3" width="11.6" height="5.4" stroke="#555555" stroke-width="0.5" fill="none"/>
<path d="M607.1,1794 L615.7,1794" stroke="#9a9a9a" stroke-width="1.4"/>
<path d="M611.4,1788 L611.4,1791.3" stroke="#555555" stroke-width="0.5"/>
<rect x="621.8" y="1791.3" width="9.2" height="5.4" stroke="#555555" stroke-width="0.5" fill="none"/>
<path d="M623.3,1794 L629.5,1794" stroke="#9a9a9a" stroke-width="1.4"/>
<path d="M626.4,1788 L626.4,1791.3" stroke="#555555" stroke-width="0.5"/>
<rect x="550.3" y="1799" width="3.0999999999999996" height="23" stroke="#555555" stroke-width="0.5" fill="none"/>
<path d="M551.85,1801 L551.85,1820" stroke="#8a8a8a" stroke-width="1.0"/>
<rect x="554.1999999999999" y="1799" width="3.0999999999999996" height="23" stroke="#555555" stroke-width="0.5" fill="none"/>
<path d="M555.75,1801 L555.75,1820" stroke="#8a8a8a" stroke-width="1.0"/>
<rect x="558.0999999999999" y="1799" width="3.0999999999999996" height="23" stroke="#555555" stroke-width="0.5" fill="none"/>
<path d="M559.65,1801 L559.65,1820" stroke="#8a8a8a" stroke-width="1.0"/>
<rect x="567.8" y="1799" width="2.95" height="23" stroke="#555555" stroke-width="0.5" fill="none"/>
<path d="M569.275,1801 L569.275,1820" stroke="#8a8a8a" stroke-width="1.0"/>
<rect x="571.55" y="1799" width="2.95" height="23" stroke="#555555" stroke-width="0.5" fill="none"/>
<path d="M573.025,1801 L573.025,1820" stroke="#8a8a8a" stroke-width="1.0"/>
<rect x="575.3" y="1799" width="2.95" height="23" stroke="#555555" stroke-width="0.5" fill="none"/>
<path d="M576.775,1801 L576.775,1820" stroke="#8a8a8a" stroke-width="1.0"/>
<rect x="579.05" y="1799" width="2.95" height="23" stroke="#555555" stroke-width="0.5" fill="none"/>
<path d="M580.525,1801 L580.525,1820" stroke="#8a8a8a" stroke-width="1.0"/>
<rect x="589.4" y="1799" width="4.75" height="23" stroke="#555555" stroke-width="0.5" fill="none"/>
<path d="M591.775,1801 L591.775,1820" stroke="#8a8a8a" stroke-width="1.0"/>
<rect x="594.9499999999999" y="1799" width="4.75" height="23" stroke="#555555" stroke-width="0.5" fill="none"/>
<path d="M597.3249999999999,1801 L597.3249999999999,1820" stroke="#8a8a8a" stroke-width="1.0"/>
<rect x="607.4" y="1799" width="3.45" height="23" stroke="#555555" stroke-width="0.5" fill="none"/>
<path d="M609.125,1801 L609.125,1820" stroke="#8a8a8a" stroke-width="1.0"/>
<rect x="611.65" y="1799" width="3.45" height="23" stroke="#555555" stroke-width="0.5" fill="none"/>
<path d="M613.375,1801 L613.375,1820" stroke="#8a8a8a" stroke-width="1.0"/>
<rect x="622.0999999999999" y="1799" width="3.05" height="23" stroke="#555555" stroke-width="0.5" fill="none"/>
<path d="M623.6249999999999,1801 L623.6249999999999,1820" stroke="#8a8a8a" stroke-width="1.0"/>
<rect x="625.9499999999999" y="1799" width="3.05" height="23" stroke="#555555" stroke-width="0.5" fill="none"/>
<path d="M627.4749999999999,1801 L627.4749999999999,1820" stroke="#8a8a8a" stroke-width="1.0"/>
<path d="M563.5,1810 L566.5,1810" stroke="#cfcfcf" stroke-width="0.6"/>
<path d="M584,1810 L587,1810" stroke="#cfcfcf" stroke-width="0.6"/>
<path d="M602,1810 L605,1810" stroke="#cfcfcf" stroke-width="0.6"/>
<path d="M618.5,1810 L621.5,1810" stroke="#cfcfcf" stroke-width="0.6"/>
<path d="M631,1810 L634,1810" stroke="#cfcfcf" stroke-width="0.6"/>
<rect x="549" y="1843" width="88.39999999999998" height="3.6" fill="#dadada" stroke="none"/>
<rect x="549" y="1843" width="88.39999999999998" height="74.20000000000005" stroke="#5a5a5a" stroke-width="0.6" fill="none"/>
<path d="M549,1846.6 L637.4,1846.6" stroke="#5a5a5a" stroke-width="0.5"/>
<path d="M567.5,1843 L567.5,1917.2" stroke="#5a5a5a" stroke-width="0.5"/>
<path d="M616.3,1843 L616.3,1917.2" stroke="#5a5a5a" stroke-width="0.5"/>
<path d="M567.5,1857.7 L637.4,1857.7" stroke="#8a8a8a" stroke-width="0.5"/>
<path d="M567.5,1866.5 L637.4,1866.5" stroke="#8a8a8a" stroke-width="0.5"/>
<path d="M567.5,1891.5 L637.4,1891.5" stroke="#8a8a8a" stroke-width="0.5"/>
<path d="M549,1912.5 L567.5,1912.5" stroke="#8a8a8a" stroke-width="0.5"/>
<path d="M569.5,1849 L614.3,1849" stroke="#ababab" stroke-width="0.75"/>
<path d="M569.5,1851.45 L597.5,1851.45" stroke="#ababab" stroke-width="0.75"/>
<path d="M569.5,1853.9 L594.9,1853.9" stroke="#ababab" stroke-width="0.75"/>
<path d="M569.5,1856.3500000000001 L614.3,1856.3500000000001" stroke="#ababab" stroke-width="0.75"/>
<path d="M569.5,1858.8000000000002 L594.3,1858.8000000000002" stroke="#ababab" stroke-width="0.75"/>
<path d="M569.5,1861.2500000000002 L592.7,1861.2500000000002" stroke="#ababab" stroke-width="0.75"/>
<path d="M569.5,1863.7000000000003 L585.0,1863.7000000000003" stroke="#ababab" stroke-width="0.75"/>
<path d="M569.5,1866.1500000000003 L614.3,1866.1500000000003" stroke="#ababab" stroke-width="0.75"/>
<path d="M569.5,1868.6000000000004 L614.3,1868.6000000000004" stroke="#ababab" stroke-width="0.75"/>
<path d="M569.5,1871.0500000000004 L587.9,1871.0500000000004" stroke="#ababab" stroke-width="0.75"/>
<path d="M569.5,1873.5000000000005 L614.3,1873.5000000000005" stroke="#ababab" stroke-width="0.75"/>
<path d="M569.5,1875.9500000000005 L614.3,1875.9500000000005" stroke="#ababab" stroke-width="0.75"/>
<path d="M569.5,1878.4000000000005 L614.3,1878.4000000000005" stroke="#ababab" stroke-width="0.75"/>
<path d="M569.5,1880.8500000000006 L614.3,1880.8500000000006" stroke="#ababab" stroke-width="0.75"/>
<path d="M569.5,1883.3000000000006 L614.3,1883.3000000000006" stroke="#ababab" stroke-width="0.75"/>
<path d="M569.5,1885.7500000000007 L602.2,1885.7500000000007" stroke="#ababab" stroke-width="0.75"/>
<path d="M569.5,1888.2000000000007 L614.3,1888.2000000000007" stroke="#ababab" stroke-width="0.75"/>
<path d="M569.5,1890.6500000000008 L585.6,1890.6500000000008" stroke="#ababab" stroke-width="0.75"/>
<path d="M569.5,1893.1000000000008 L614.3,1893.1000000000008" stroke="#ababab" stroke-width="0.75"/>
<path d="M569.5,1895.5500000000009 L614.3,1895.5500000000009" stroke="#ababab" stroke-width="0.75"/>
<path d="M569.5,1898.000000000001 L596.0,1898.000000000001" stroke="#ababab" stroke-width="0.75"/>
<path d="M569.5,1900.450000000001 L614.3,1900.450000000001" stroke="#ababab" stroke-width="0.75"/>
<path d="M569.5,1902.900000000001 L614.3,1902.900000000001" stroke="#ababab" stroke-width="0.75"/>
<path d="M569.5,1905.350000000001 L614.3,1905.350000000001" stroke="#ababab" stroke-width="0.75"/>
<path d="M569.5,1907.800000000001 L584.3,1907.800000000001" stroke="#ababab" stroke-width="0.75"/>
<path d="M569.5,1910.2500000000011 L598.2,1910.2500000000011" stroke="#ababab" stroke-width="0.75"/>
<path d="M569.5,1912.7000000000012 L614.3,1912.7000000000012" stroke="#ababab" stroke-width="0.75"/>
<path d="M569.5,1915.1500000000012 L614.3,1915.1500000000012" stroke="#ababab" stroke-width="0.75"/>
<path d="M618.3,1849 L635.4,1849" stroke="#b5b5b5" stroke-width="0.75"/>
<path d="M618.3,1851.75 L635.4,1851.75" stroke="#b5b5b5" stroke-width="0.75"/>
<path d="M618.3,1854.5 L630.1999999999999,1854.5" stroke="#b5b5b5" stroke-width="0.75"/>
<path d="M618.3,1859 L635.4,1859" stroke="#b5b5b5" stroke-width="0.75"/>
<path d="M618.3,1861.75 L628.3,1861.75" stroke="#b5b5b5" stroke-width="0.75"/>
<path d="M618.3,1864.5 L635.4,1864.5" stroke="#b5b5b5" stroke-width="0.75"/>
<path d="M618.3,1876 L635.4,1876" stroke="#b5b5b5" stroke-width="0.75"/>
<path d="M618.3,1878.75 L635.4,1878.75" stroke="#b5b5b5" stroke-width="0.75"/>
<path d="M618.3,1881.5 L631.8,1881.5" stroke="#b5b5b5" stroke-width="0.75"/>
<path d="M618.3,1884.25 L627.0,1884.25" stroke="#b5b5b5" stroke-width="0.75"/>
<path d="M618.3,1887.0 L635.4,1887.0" stroke="#b5b5b5" stroke-width="0.75"/>
<path d="M618.3,1889.75 L627.5999999999999,1889.75" stroke="#b5b5b5" stroke-width="0.75"/>
<path d="M618.3,1897 L629.0999999999999,1897" stroke="#b5b5b5" stroke-width="0.75"/>
<path d="M618.3,1899.75 L635.4,1899.75" stroke="#b5b5b5" stroke-width="0.75"/>
<path d="M618.3,1902.5 L635.4,1902.5" stroke="#b5b5b5" stroke-width="0.75"/>
<path d="M618.3,1914.5 L635.4,1914.5" stroke="#b5b5b5" stroke-width="0.75"/>
<path d="M552,1844.8 L564.5,1844.8" stroke="#9a9a9a" stroke-width="1.0"/>
<path d="M581.5,1844.8 L602.3,1844.8" stroke="#9a9a9a" stroke-width="1.0"/>
<path d="M620.3,1844.8 L633.4,1844.8" stroke="#9a9a9a" stroke-width="1.0"/>
<path d="M549,1912.5 L637.4,1912.5" stroke="#8a8a8a" stroke-width="0.5"/>
<path d="M552,1880 L564,1880" stroke="#bdbdbd" stroke-width="1.0"/>
<path d="M552,1914.8 L564,1914.8" stroke="#bdbdbd" stroke-width="1.0"/>
<rect x="548.75" y="1939.4" width="66.85000000000002" height="3.6" fill="#dadada" stroke="none"/>
<rect x="548.75" y="1939.4" width="66.85000000000002" height="88.09999999999991" stroke="#5a5a5a" stroke-width="0.6" fill="none"/>
<path d="M548.75,1943.0 L615.6,1943.0" stroke="#5a5a5a" stroke-width="0.5"/>
<path d="M562.5,1939.4 L562.5,2027.5" stroke="#5a5a5a" stroke-width="0.5"/>
<path d="M599.75,1939.4 L599.75,2027.5" stroke="#5a5a5a" stroke-width="0.5"/>
<path d="M562.5,1972.5 L615.6,1972.5" stroke="#8a8a8a" stroke-width="0.5"/>
<path d="M562.5,2010 L615.6,2010" stroke="#8a8a8a" stroke-width="0.5"/>
<path d="M548.75,1972.5 L562.5,1972.5" stroke="#8a8a8a" stroke-width="0.5"/>
<path d="M548.75,2010 L562.5,2010" stroke="#8a8a8a" stroke-width="0.5"/>
<path d="M564.5,1945.4 L597.7,1945.4" stroke="#ababab" stroke-width="0.75"/>
<path d="M564.5,1948.0 L597.7,1948.0" stroke="#ababab" stroke-width="0.75"/>
<path d="M564.5,1950.6 L597.7,1950.6" stroke="#ababab" stroke-width="0.75"/>
<path d="M564.5,1953.1999999999998 L597.7,1953.1999999999998" stroke="#ababab" stroke-width="0.75"/>
<path d="M564.5,1955.7999999999997 L597.7,1955.7999999999997" stroke="#ababab" stroke-width="0.75"/>
<path d="M564.5,1958.3999999999996 L597.7,1958.3999999999996" stroke="#ababab" stroke-width="0.75"/>
<path d="M564.5,1960.9999999999995 L597.7,1960.9999999999995" stroke="#ababab" stroke-width="0.75"/>
<path d="M564.5,1963.5999999999995 L597.7,1963.5999999999995" stroke="#ababab" stroke-width="0.75"/>
<path d="M564.5,1966.1999999999994 L597.7,1966.1999999999994" stroke="#ababab" stroke-width="0.75"/>
<path d="M564.5,1968.7999999999993 L586.1,1968.7999999999993" stroke="#ababab" stroke-width="0.75"/>
<path d="M564.5,1971.3999999999992 L597.7,1971.3999999999992" stroke="#ababab" stroke-width="0.75"/>
<path d="M564.5,1973.999999999999 L597.7,1973.999999999999" stroke="#ababab" stroke-width="0.75"/>
<path d="M564.5,1976.599999999999 L597.7,1976.599999999999" stroke="#ababab" stroke-width="0.75"/>
<path d="M564.5,1979.199999999999 L597.7,1979.199999999999" stroke="#ababab" stroke-width="0.75"/>
<path d="M564.5,1981.7999999999988 L597.7,1981.7999999999988" stroke="#ababab" stroke-width="0.75"/>
<path d="M564.5,1984.3999999999987 L597.7,1984.3999999999987" stroke="#ababab" stroke-width="0.75"/>
<path d="M564.5,1986.9999999999986 L582.2,1986.9999999999986" stroke="#ababab" stroke-width="0.75"/>
<path d="M564.5,1989.5999999999985 L576.4,1989.5999999999985" stroke="#ababab" stroke-width="0.75"/>
<path d="M564.5,1992.1999999999985 L587.2,1992.1999999999985" stroke="#ababab" stroke-width="0.75"/>
<path d="M564.5,1994.7999999999984 L578.6,1994.7999999999984" stroke="#ababab" stroke-width="0.75"/>
<path d="M564.5,1997.3999999999983 L597.7,1997.3999999999983" stroke="#ababab" stroke-width="0.75"/>
<path d="M564.5,1999.9999999999982 L597.7,1999.9999999999982" stroke="#ababab" stroke-width="0.75"/>
<path d="M564.5,2002.599999999998 L581.9,2002.599999999998" stroke="#ababab" stroke-width="0.75"/>
<path d="M564.5,2005.199999999998 L597.7,2005.199999999998" stroke="#ababab" stroke-width="0.75"/>
<path d="M564.5,2007.799999999998 L597.7,2007.799999999998" stroke="#ababab" stroke-width="0.75"/>
<path d="M564.5,2010.3999999999978 L597.7,2010.3999999999978" stroke="#ababab" stroke-width="0.75"/>
<path d="M564.5,2012.9999999999977 L597.7,2012.9999999999977" stroke="#ababab" stroke-width="0.75"/>
<path d="M564.5,2015.5999999999976 L597.7,2015.5999999999976" stroke="#ababab" stroke-width="0.75"/>
<path d="M564.5,2018.1999999999975 L597.7,2018.1999999999975" stroke="#ababab" stroke-width="0.75"/>
<path d="M564.5,2020.7999999999975 L597.7,2020.7999999999975" stroke="#ababab" stroke-width="0.75"/>
<path d="M564.5,2023.3999999999974 L597.7,2023.3999999999974" stroke="#ababab" stroke-width="0.75"/>
<path d="M564.5,2025.9999999999973 L597.7,2025.9999999999973" stroke="#ababab" stroke-width="0.75"/>
<path d="M601.75,1944 L606.35,1944" stroke="#b5b5b5" stroke-width="0.75"/>
<path d="M601.75,1946.9 L606.65,1946.9" stroke="#b5b5b5" stroke-width="0.75"/>
<path d="M601.75,1949.8000000000002 L613.65,1949.8000000000002" stroke="#b5b5b5" stroke-width="0.75"/>
<path d="M601.75,1952.7000000000003 L613.65,1952.7000000000003" stroke="#b5b5b5" stroke-width="0.75"/>
<path d="M601.75,1955.6000000000004 L605.35,1955.6000000000004" stroke="#b5b5b5" stroke-width="0.75"/>
<path d="M601.75,1958.5000000000005 L613.65,1958.5000000000005" stroke="#b5b5b5" stroke-width="0.75"/>
<path d="M601.75,1961.4000000000005 L613.65,1961.4000000000005" stroke="#b5b5b5" stroke-width="0.75"/>
<path d="M601.75,1964.3000000000006 L613.65,1964.3000000000006" stroke="#b5b5b5" stroke-width="0.75"/>
<path d="M601.75,1967.2000000000007 L613.65,1967.2000000000007" stroke="#b5b5b5" stroke-width="0.75"/>
<path d="M601.75,1970.1000000000008 L613.65,1970.1000000000008" stroke="#b5b5b5" stroke-width="0.75"/>
<path d="M601.75,1979 L613.65,1979" stroke="#b5b5b5" stroke-width="0.75"/>
<path d="M601.75,1981.9 L613.65,1981.9" stroke="#b5b5b5" stroke-width="0.75"/>
<path d="M601.75,1984.8000000000002 L613.65,1984.8000000000002" stroke="#b5b5b5" stroke-width="0.75"/>
<path d="M601.75,1987.7000000000003 L610.65,1987.7000000000003" stroke="#b5b5b5" stroke-width="0.75"/>
<path d="M601.75,1990.6000000000004 L613.65,1990.6000000000004" stroke="#b5b5b5" stroke-width="0.75"/>
<path d="M601.75,1993.5000000000005 L613.65,1993.5000000000005" stroke="#b5b5b5" stroke-width="0.75"/>
<path d="M601.75,1996.4000000000005 L613.65,1996.4000000000005" stroke="#b5b5b5" stroke-width="0.75"/>
<path d="M601.75,1999.3000000000006 L613.65,1999.3000000000006" stroke="#b5b5b5" stroke-width="0.75"/>
<path d="M601.75,2002.2000000000007 L613.65,2002.2000000000007" stroke="#b5b5b5" stroke-width="0.75"/>
<path d="M601.75,2005.1000000000008 L609.05,2005.1000000000008" stroke="#b5b5b5" stroke-width="0.75"/>
<path d="M601.75,2014 L605.75,2014" stroke="#b5b5b5" stroke-width="0.75"/>
<path d="M601.75,2016.9 L606.25,2016.9" stroke="#b5b5b5" stroke-width="0.75"/>
<path d="M601.75,2019.8000000000002 L613.65,2019.8000000000002" stroke="#b5b5b5" stroke-width="0.75"/>
<path d="M601.75,2022.7000000000003 L605.35,2022.7000000000003" stroke="#b5b5b5" stroke-width="0.75"/>
<path d="M551.75,1941.2 L559.5,1941.2" stroke="#9a9a9a" stroke-width="1.0"/>
<path d="M576.5,1941.2 L585.75,1941.2" stroke="#9a9a9a" stroke-width="1.0"/>
<path d="M603.75,1941.2 L611.6,1941.2" stroke="#9a9a9a" stroke-width="1.0"/>
<path d="M550.5,1957 L560.5,1957" stroke="#bdbdbd" stroke-width="1.0"/>
<path d="M550.5,1991 L560.5,1991" stroke="#bdbdbd" stroke-width="1.0"/>
<path d="M550.5,2019 L560.5,2019" stroke="#d8c08a" stroke-width="1.0"/>
<rect x="548.8" y="2048.1" width="80.90000000000009" height="3.6" fill="#dadada" stroke="none"/>
<rect x="548.8" y="2048.1" width="80.90000000000009" height="88.20000000000027" stroke="#5a5a5a" stroke-width="0.6" fill="none"/>
<path d="M548.8,2051.7 L629.7,2051.7" stroke="#5a5a5a" stroke-width="0.5"/>
<path d="M565.3,2048.1 L565.3,2136.3" stroke="#5a5a5a" stroke-width="0.5"/>
<path d="M609.9,2048.1 L609.9,2136.3" stroke="#5a5a5a" stroke-width="0.5"/>
<path d="M565.3,2070.9 L629.7,2070.9" stroke="#8a8a8a" stroke-width="0.5"/>
<path d="M548.8,2070.9 L565.3,2070.9" stroke="#8a8a8a" stroke-width="0.5"/>
<path d="M567.3,2054.1 L581.5,2054.1" stroke="#ababab" stroke-width="0.75"/>
<path d="M567.3,2056.65 L607.9,2056.65" stroke="#ababab" stroke-width="0.75"/>
<path d="M567.3,2059.2000000000003 L597.1999999999999,2059.2000000000003" stroke="#ababab" stroke-width="0.75"/>
<path d="M567.3,2061.7500000000005 L607.9,2061.7500000000005" stroke="#ababab" stroke-width="0.75"/>
<path d="M567.3,2064.3000000000006 L584.5999999999999,2064.3000000000006" stroke="#ababab" stroke-width="0.75"/>
<path d="M567.3,2066.850000000001 L607.9,2066.850000000001" stroke="#ababab" stroke-width="0.75"/>
<path d="M567.3,2069.400000000001 L607.9,2069.400000000001" stroke="#ababab" stroke-width="0.75"/>
<path d="M567.3,2071.950000000001 L596.6999999999999,2071.950000000001" stroke="#ababab" stroke-width="0.75"/>
<path d="M567.3,2074.5000000000014 L607.9,2074.5000000000014" stroke="#ababab" stroke-width="0.75"/>
<path d="M567.3,2077.0500000000015 L607.9,2077.0500000000015" stroke="#ababab" stroke-width="0.75"/>
<path d="M567.3,2079.6000000000017 L607.9,2079.6000000000017" stroke="#ababab" stroke-width="0.75"/>
<path d="M567.3,2082.150000000002 L581.5999999999999,2082.150000000002" stroke="#ababab" stroke-width="0.75"/>
<path d="M567.3,2084.700000000002 L607.9,2084.700000000002" stroke="#ababab" stroke-width="0.75"/>
<path d="M567.3,2087.2500000000023 L607.9,2087.2500000000023" stroke="#ababab" stroke-width="0.75"/>
<path d="M567.3,2089.8000000000025 L607.9,2089.8000000000025" stroke="#ababab" stroke-width="0.75"/>
<path d="M567.3,2092.3500000000026 L579.9,2092.3500000000026" stroke="#ababab" stroke-width="0.75"/>
<path d="M567.3,2094.900000000003 L607.9,2094.900000000003" stroke="#ababab" stroke-width="0.75"/>
<path d="M567.3,2097.450000000003 L607.9,2097.450000000003" stroke="#ababab" stroke-width="0.75"/>
<path d="M567.3,2100.000000000003 L590.5,2100.000000000003" stroke="#ababab" stroke-width="0.75"/>
<path d="M567.3,2102.5500000000034 L590.1999999999999,2102.5500000000034" stroke="#ababab" stroke-width="0.75"/>
<path d="M567.3,2105.1000000000035 L607.9,2105.1000000000035" stroke="#ababab" stroke-width="0.75"/>
<path d="M567.3,2107.6500000000037 L607.9,2107.6500000000037" stroke="#ababab" stroke-width="0.75"/>
<path d="M567.3,2110.200000000004 L607.9,2110.200000000004" stroke="#ababab" stroke-width="0.75"/>
<path d="M567.3,2112.750000000004 L607.9,2112.750000000004" stroke="#ababab" stroke-width="0.75"/>
<path d="M567.3,2115.3000000000043 L607.9,2115.3000000000043" stroke="#ababab" stroke-width="0.75"/>
<path d="M567.3,2117.8500000000045 L595.1999999999999,2117.8500000000045" stroke="#ababab" stroke-width="0.75"/>
<path d="M567.3,2120.4000000000046 L607.9,2120.4000000000046" stroke="#ababab" stroke-width="0.75"/>
<path d="M567.3,2122.950000000005 L607.9,2122.950000000005" stroke="#ababab" stroke-width="0.75"/>
<path d="M567.3,2125.500000000005 L607.9,2125.500000000005" stroke="#ababab" stroke-width="0.75"/>
<path d="M567.3,2128.050000000005 L596.0,2128.050000000005" stroke="#ababab" stroke-width="0.75"/>
<path d="M567.3,2130.6000000000054 L607.9,2130.6000000000054" stroke="#ababab" stroke-width="0.75"/>
<path d="M567.3,2133.1500000000055 L607.9,2133.1500000000055" stroke="#ababab" stroke-width="0.75"/>
<path d="M611.9,2055 L627.6999999999999,2055" stroke="#b5b5b5" stroke-width="0.75"/>
<path d="M611.9,2057.85 L627.6999999999999,2057.85" stroke="#b5b5b5" stroke-width="0.75"/>
<path d="M611.9,2060.7 L627.6999999999999,2060.7" stroke="#b5b5b5" stroke-width="0.75"/>
<path d="M611.9,2063.5499999999997 L620.6999999999999,2063.5499999999997" stroke="#b5b5b5" stroke-width="0.75"/>
<path d="M611.9,2096 L627.6999999999999,2096" stroke="#b5b5b5" stroke-width="0.75"/>
<path d="M611.9,2098.85 L616.9,2098.85" stroke="#b5b5b5" stroke-width="0.75"/>
<path d="M611.9,2101.7 L618.6999999999999,2101.7" stroke="#b5b5b5" stroke-width="0.75"/>
<path d="M611.9,2104.5499999999997 L627.6999999999999,2104.5499999999997" stroke="#b5b5b5" stroke-width="0.75"/>
<path d="M611.9,2107.3999999999996 L627.6999999999999,2107.3999999999996" stroke="#b5b5b5" stroke-width="0.75"/>
<path d="M611.9,2110.2499999999995 L627.6999999999999,2110.2499999999995" stroke="#b5b5b5" stroke-width="0.75"/>
<path d="M551.8,2049.9 L562.3,2049.9" stroke="#9a9a9a" stroke-width="1.0"/>
<path d="M579.3,2049.9 L595.9,2049.9" stroke="#9a9a9a" stroke-width="1.0"/>
<path d="M613.9,2049.9 L625.7,2049.9" stroke="#9a9a9a" stroke-width="1.0"/>
<path d="M551,2061 L563,2061" stroke="#bdbdbd" stroke-width="1.0"/>
<path d="M551,2104 L563,2104" stroke="#bdbdbd" stroke-width="1.0"/>
</svg>
<div id="tx"><div class="t b" style="left:27.7px;top:1078.8px;font-size:11.9px;line-height:13.4px;color:#161616;width:124px;text-align:center;-webkit-text-stroke:0.3px #111;"><span class="c">可靠性设计技术与发</span><br><span class="c">展现状</span></div><div class="t b" style="left:170.7px;top:456.6px;font-size:10.1px;line-height:12px;color:#161616;width:62.6px;text-align:center;-webkit-text-stroke:0.4px #111;"><span class="c">可靠性设计</span></div><div class="t b" style="left:170.7px;top:1514.0px;font-size:10.3px;line-height:12px;color:#161616;width:114.4px;text-align:center;-webkit-text-stroke:0.4px #111;"><span class="c">可靠性设计技术发展进</span><br><span class="c">程</span></div><div class="t" style="left:252.8px;top:25.0px;font-size:9px;line-height:10.5px;color:#161616;"><span class="c">定义</span></div><div class="t" style="left:252.8px;top:461.6px;font-size:9px;line-height:10.5px;color:#161616;"><span class="c">基本要求</span></div><div class="t" style="left:322.9px;top:68.5px;font-size:9px;line-height:10.5px;color:#161616;"><span class="c">设计指标</span></div><div class="t" style="left:392.3px;top:53.6px;font-size:9px;line-height:10.5px;color:#161616;"><span class="c">定性</span></div><div class="t" style="left:392.3px;top:82.5px;font-size:9px;line-height:10.5px;color:#161616;"><span class="c">定量</span></div><div class="t" style="left:322.9px;top:155.5px;font-size:9px;line-height:10.5px;color:#161616;"><span class="c">设计内容</span></div><div class="t" style="left:392.3px;top:112.0px;font-size:9px;line-height:10.5px;color:#161616;"><span class="c">性能可靠性设计</span></div><div class="t" style="left:392.3px;top:140.8px;font-size:9px;line-height:10.5px;color:#161616;"><span class="c">结构可靠性设计</span></div><div class="t" style="left:392.3px;top:169.9px;font-size:9px;line-height:10.5px;color:#161616;"><span class="c">工艺可靠性设计</span></div><div class="t" style="left:392.3px;top:198.7px;font-size:9px;line-height:10.5px;color:#161616;"><span class="c">可靠性试验和评价设计</span></div><div class="t" style="left:322.9px;top:406.9px;font-size:9px;line-height:10.5px;color:#161616;"><span class="c">装备可靠性设计</span></div><div class="t" style="left:414.9px;top:406.9px;font-size:9px;line-height:10.5px;color:#161616;">GJB450A<span class="c">工作项目</span>300</div><div class="t" style="left:534.3px;top:228.0px;font-size:9px;line-height:10.5px;color:#161616;"><span class="c">可靠性建模</span></div><div class="t" style="left:534.3px;top:256.5px;font-size:9px;line-height:10.5px;color:#161616;"><span class="c">可靠性分配</span></div><div class="t" style="left:534.3px;top:285.7px;font-size:9px;line-height:10.5px;color:#161616;"><span class="c">可靠性预计</span></div><div class="t" style="left:534.3px;top:314.5px;font-size:9px;line-height:10.5px;color:#161616;">FMECA</div><div class="t" style="left:534.3px;top:344.1px;font-size:9px;line-height:10.5px;color:#161616;">FTA</div><div class="t" style="left:534.3px;top:372.9px;font-size:9px;line-height:10.5px;color:#161616;">SCA</div><div class="t" style="left:534.3px;top:402.0px;font-size:9px;line-height:10.5px;color:#161616;">CTA</div><div class="t" style="left:534.3px;top:430.8px;font-size:9px;line-height:10.5px;color:#161616;"><span class="c">可靠性设计准则</span></div><div class="t" style="left:534.3px;top:460.0px;font-size:9px;line-height:10.5px;color:#161616;"><span class="c">元器件、零部件和原材料选</span><br><span class="c">择与控制</span></div><div class="t" style="left:534.3px;top:499.0px;font-size:9px;line-height:10.5px;color:#161616;"><span class="c">确定可靠性关键产品</span></div><div class="t" style="left:534.3px;top:528.1px;font-size:9px;line-height:10.5px;color:#161616;"><span class="c">确定测试影响</span></div><div class="t" style="left:534.3px;top:557.0px;font-size:9px;line-height:10.5px;color:#161616;"><span class="c">有限元分析</span></div><div class="t" style="left:534.3px;top:585.8px;font-size:9px;line-height:10.5px;color:#161616;"><span class="c">耐久性分析</span></div><div class="t" style="left:322.9px;top:677.0px;font-size:9px;line-height:10.5px;color:#161616;"><span class="c">电子元器件可靠性设计与分</span><br><span class="c">析</span></div><div class="t" style="left:460.8px;top:615.3px;font-size:9px;line-height:10.5px;color:#161616;"><span class="c">耐环境</span></div><div class="t" style="left:460.8px;top:644.4px;font-size:9px;line-height:10.5px;color:#161616;"><span class="c">稳定性</span></div><div class="t" style="left:460.8px;top:673.5px;font-size:9px;line-height:10.5px;color:#161616;"><span class="c">热设计</span></div><div class="t" style="left:460.8px;top:702.0px;font-size:9px;line-height:10.5px;color:#161616;"><span class="c">长寿命</span></div><div class="t" style="left:460.8px;top:731.1px;font-size:9px;line-height:10.5px;color:#161616;"><span class="c">失效模式</span></div><div class="t" style="left:460.8px;top:760.3px;font-size:9px;line-height:10.5px;color:#161616;"><span class="c">裕度设计</span></div><div class="t" style="left:322.9px;top:801.7px;font-size:9px;line-height:10.5px;color:#161616;"><span class="c">浴盆曲线</span></div><div class="t" style="left:322.9px;top:855.5px;font-size:9px;line-height:10.5px;color:#161616;"><span class="c">全寿命周期</span></div><div class="t" style="left:305.0px;top:1292.7px;font-size:9px;line-height:10.5px;color:#161616;"><span class="c">可靠性设计需求与发展</span></div><div class="t" style="left:424.0px;top:1123.8px;font-size:9px;line-height:10.5px;color:#161616;"><span class="c">国外</span></div><div class="t" style="left:424.0px;top:1538.9px;font-size:9px;line-height:10.5px;color:#161616;"><span class="c">国内</span></div><div class="t" style="left:492.8px;top:903.0px;font-size:9px;line-height:10.5px;color:#161616;">1939 <span class="c">《适航性统计学注</span><br><span class="c">释》</span></div><div class="t" style="left:492.8px;top:942.5px;font-size:9px;line-height:10.5px;color:#161616;"><span class="c">二战首次定量计算复杂系统</span><br><span class="c">可靠性问题</span></div><div class="t" style="left:492.8px;top:982.1px;font-size:9px;line-height:10.5px;color:#161616;">1942—1946<span class="c">产品失效分析</span></div><div class="t" style="left:492.8px;top:1010.8px;font-size:9px;line-height:10.5px;color:#161616;">1952<span class="c">年成立</span>AGREE</div><div class="t" style="left:492.8px;top:1039.8px;font-size:9px;line-height:10.5px;color:#161616;">1962 <span class="c">颁布标准</span>MIL-<br>HDBK-217</div><div class="t" style="left:492.8px;top:1079.4px;font-size:9px;line-height:10.5px;color:#161616;">1965 <span class="c">颁布标准</span>MIL-<br>STD-785</div><div class="t" style="left:492.8px;top:1118.4px;font-size:9px;line-height:10.5px;color:#161616;">1978 <span class="c">颁布标准</span>MIL-<br>HDBK-251</div><div class="t" style="left:492.8px;top:1158.0px;font-size:9px;line-height:10.5px;color:#161616;">1984 <span class="c">颁布标准</span>MIL-<br>HDBK-338</div><div class="t" style="left:492.8px;top:1196.8px;font-size:9px;line-height:10.5px;color:#161616;">1992 <span class="c">颁布了</span>IPC-SM-785</div><div class="t" style="left:492.8px;top:1225.6px;font-size:9px;line-height:10.5px;color:#161616;">1998 <span class="c">颁布标准</span>IEEE Std<br>1413</div><div class="t" style="left:492.8px;top:1265.5px;font-size:9px;line-height:10.5px;color:#161616;">2004 <span class="c">颁布标准</span>JEP148</div><div class="t" style="left:492.8px;top:1294.3px;font-size:9px;line-height:10.5px;color:#161616;">2005—2008 GEIA-<br>STD-0009</div><div class="t" style="left:492.8px;top:1333.8px;font-size:9px;line-height:10.5px;color:#161616;">2008—2016 ANSI/VITA51<br><span class="c">系列标准</span></div><div class="t" style="left:492.8px;top:1373.1px;font-size:9px;line-height:10.5px;color:#161616;">1955<span class="c">广五所前身成立</span></div><div class="t" style="left:492.8px;top:1401.4px;font-size:9px;line-height:10.5px;color:#161616;">1960<span class="c">中国引进可靠性理念</span><br><span class="c">和技术</span></div><div class="t" style="left:492.8px;top:1441.6px;font-size:9px;line-height:10.5px;color:#161616;">1970<span class="c">七专</span></div><div class="t" style="left:492.8px;top:1470.9px;font-size:9px;line-height:10.5px;color:#161616;">1980<span class="c">颁布</span>GJB/Z 299</div><div class="t" style="left:492.8px;top:1499.9px;font-size:9px;line-height:10.5px;color:#161616;">1990<span class="c">颁布</span>GJB 813—90</div><div class="t" style="left:492.8px;top:1529.2px;font-size:9px;line-height:10.5px;color:#161616;">1992 <span class="c">颁布</span>GJB/Z 27—1922</div><div class="t" style="left:492.8px;top:1557.5px;font-size:9px;line-height:10.5px;color:#161616;">1993 <span class="c">颁布</span>GJB/Z 35—1993</div><div class="t" style="left:492.8px;top:1586.3px;font-size:9px;line-height:10.5px;color:#161616;">1994 <span class="c">颁布</span>SJ 20454—<br>1994</div><div class="t" style="left:492.8px;top:1625.5px;font-size:9px;line-height:10.5px;color:#161616;">1998<span class="c">颁布</span>GJB/Z 108—<br>1998</div><div class="t" style="left:492.8px;top:1665.0px;font-size:9px;line-height:10.5px;color:#161616;">2004<span class="c">修订颁布</span>GJB 450A—<br>2004</div><div class="t" style="left:492.8px;top:1704.3px;font-size:9px;line-height:10.5px;color:#161616;">2009<span class="c">修订颁布</span>GJB 1909A</div><div class="t" style="left:304.0px;top:1919.7px;font-size:9px;line-height:10.5px;color:#161616;"><span class="c">可靠性设计技术体系及相关</span><br><span class="c">标准</span></div><div class="t" style="left:442.0px;top:1773.4px;font-size:9px;line-height:10.5px;color:#161616;"><span class="c">可靠性设计技术体系</span></div><div class="t" style="left:442.0px;top:1985.5px;font-size:9px;line-height:10.5px;color:#161616;"><span class="c">可靠性设计相关标准</span></div></div>
<div class="wm1">嘉峪检测网</div><div class="wm2">AnyTesting.com</div>
</body></html>
